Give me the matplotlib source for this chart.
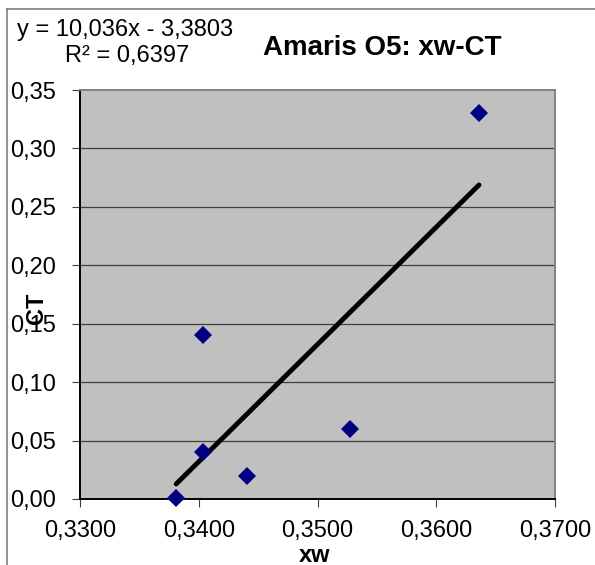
import numpy as np
import matplotlib
matplotlib.use("Agg")
import matplotlib.pyplot as plt
from matplotlib.lines import Line2D

plt.rcParams['font.family'] = ['Liberation Sans', 'DejaVu Sans']

# data
xw = [0.3381, 0.3404, 0.3404, 0.3441, 0.3527, 0.3636]
ct = [0.001, 0.040, 0.140, 0.020, 0.060, 0.330]
slope, intercept = 10.036, -3.3803
eq_text = "y = 10,036x - 3,3803"
r2_text = "R² = 0,6397"
title = "Amaris O5: xw-CT"
xticks = [0.33, 0.34, 0.35, 0.36, 0.37]
xticklabels = ["0,3300", "0,3400", "0,3500", "0,3600", "0,3700"]
yticks = [0.0, 0.05, 0.10, 0.15, 0.20, 0.25, 0.30, 0.35]
yticklabels = ["0,00", "0,05", "0,10", "0,15", "0,20", "0,25", "0,30", "0,35"]

W, H = 595, 565
fig = plt.figure(figsize=(W / 100, H / 100), dpi=100)
fig.patch.set_facecolor('white')

def fx(px):
    return px / W

def fy(py):
    return 1 - py / H

L, R, T, B = 80, 555, 90, 499
ax = fig.add_axes([fx(L), fy(B), fx(R) - fx(L), fy(T) - fy(B)])
ax.set_facecolor('#C0C0C0')

ax.set_xlim(0.33, 0.37)
ax.set_ylim(0.0, 0.35)
ax.set_xticks(xticks)
ax.set_xticklabels(xticklabels)
ax.set_yticks(yticks)
ax.set_yticklabels(yticklabels)

for y in yticks[1:-1]:
    ax.axhline(y, color='#404040', lw=0.9, zorder=1)

ax.spines['left'].set_color('black')
ax.spines['bottom'].set_color('black')
ax.spines['left'].set_linewidth(1.4)
ax.spines['bottom'].set_linewidth(1.4)
ax.spines['top'].set_color('#808080')
ax.spines['right'].set_color('#808080')
ax.spines['top'].set_linewidth(1.4)
ax.spines['right'].set_linewidth(1.4)

ax.tick_params(axis='both', direction='out', length=6, width=0.8, color='#404040',
               labelsize=17, labelcolor='black')
ax.tick_params(axis='y', pad=11)
ax.tick_params(axis='x', pad=9)

# trendline
xs = np.array([min(xw), max(xw)])
ax.plot(xs, slope * xs + intercept, color='black', lw=3.5, solid_capstyle='round', zorder=3)

# points
ax.plot(xw, ct, linestyle='none', marker='D', markersize=9.3, color='#000080',
        markeredgewidth=0, zorder=4, clip_on=False)

# texts
fig.text(fx(125), fy(36), eq_text, ha='center', va='baseline', fontsize=17)
fig.text(fx(127), fy(62), r2_text, ha='center', va='baseline', fontsize=17)
fig.text(fx(382), fy(55), title, ha='center', va='baseline', fontsize=20, fontweight='bold')
fig.text(fx(37), fy(308), "CT", ha='center', va='center', rotation=90, fontsize=17,
         fontweight='bold')
fig.text(fx(315), fy(555), "xw", ha='center', va='center', fontsize=17, fontweight='bold')

# chart border (top and left visible)
fig.add_artist(Line2D([fx(7), fx(7)], [fy(9), 0], color='#808080', lw=1.2))
fig.add_artist(Line2D([fx(7), 1], [fy(9), fy(9)], color='#808080', lw=1.2))

fig.savefig('out.png', dpi=100)
